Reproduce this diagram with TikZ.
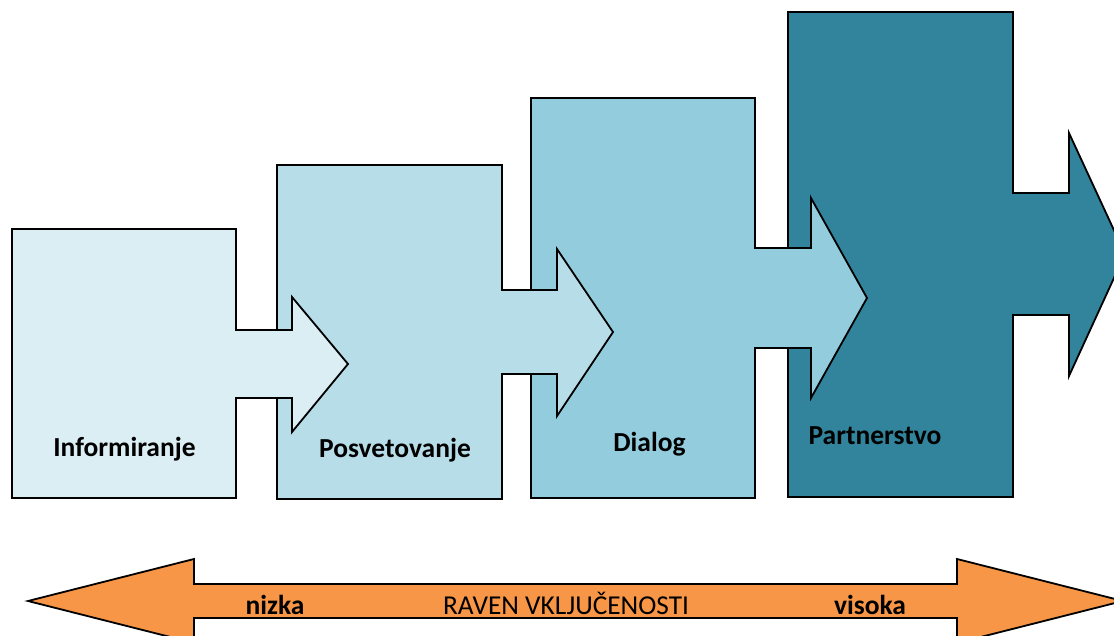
\documentclass[tikz,border=0pt]{standalone}
\usepackage{fontspec}
\setmainfont{Carlito}
\definecolor{cOne}{HTML}{DBEEF4}
\definecolor{cTwo}{HTML}{B7DEE8}
\definecolor{cThree}{HTML}{93CDDD}
\definecolor{cFour}{HTML}{31849B}
\definecolor{cOrange}{HTML}{F79646}
\tikzset{
  stage/.style={draw=black, line width=1.8pt, line join=miter},
  lbl/.style={anchor=base, inner sep=0pt, font=\fontsize{27.5}{32}\selectfont\bfseries},
  lblreg/.style={anchor=base, inner sep=0pt, font=\fontsize{27.3}{32}\selectfont},
}
\begin{document}
\begin{tikzpicture}[x=1pt,y=-1pt]
\useasboundingbox (0,0) rectangle (1114,636);
\clip (0,0) rectangle (1114,636);
% block 4
\draw[stage, fill=cFour] (788,12) -- (1013,12) -- (1013,193) -- (1069,193) -- (1069,133) -- (1125,254) -- (1069,376) -- (1069,315) -- (1013,315) -- (1013,497) -- (788,497) -- cycle;
% block 3
\draw[stage, fill=cThree] (531,98) -- (755,98) -- (755,248) -- (811,248) -- (811,198) -- (867,298) -- (811,398) -- (811,348) -- (755,348) -- (755,498) -- (531,498) -- cycle;
% block 2
\draw[stage, fill=cTwo] (277,165) -- (502,165) -- (502,290) -- (557,290) -- (557,249) -- (613,332) -- (557,416) -- (557,374) -- (502,374) -- (502,499) -- (277,499) -- cycle;
% block 1
\draw[stage, fill=cOne] (12,229) -- (236,229) -- (236,330) -- (292,330) -- (292,297) -- (348,364) -- (292,432) -- (292,398) -- (236,398) -- (236,498) -- (12,498) -- cycle;
% labels
\node[lbl] (l1) at (124.5,456) {Informiranje};
\node[lbl] (l2) at (395,457) {Posvetovanje};
\node[lbl] (l3) at (649.5,451) {Dialog};
\node[lbl] (l4) at (875,444) {Partnerstvo};
% double arrow
\draw[stage, fill=cOrange] (28,601) -- (194,559) -- (194,584) -- (957,584) -- (957,559) -- (1123,601) -- (957,643) -- (957,618) -- (194,618) -- (194,643) -- cycle;
\node[lbl] (lo) at (275,614) {nizka};
\node[lblreg] (mid) at (566,614) {RAVEN VKLJUČENOSTI};
\node[lbl] (hi) at (870,614) {visoka};
\end{tikzpicture}
\end{document}
